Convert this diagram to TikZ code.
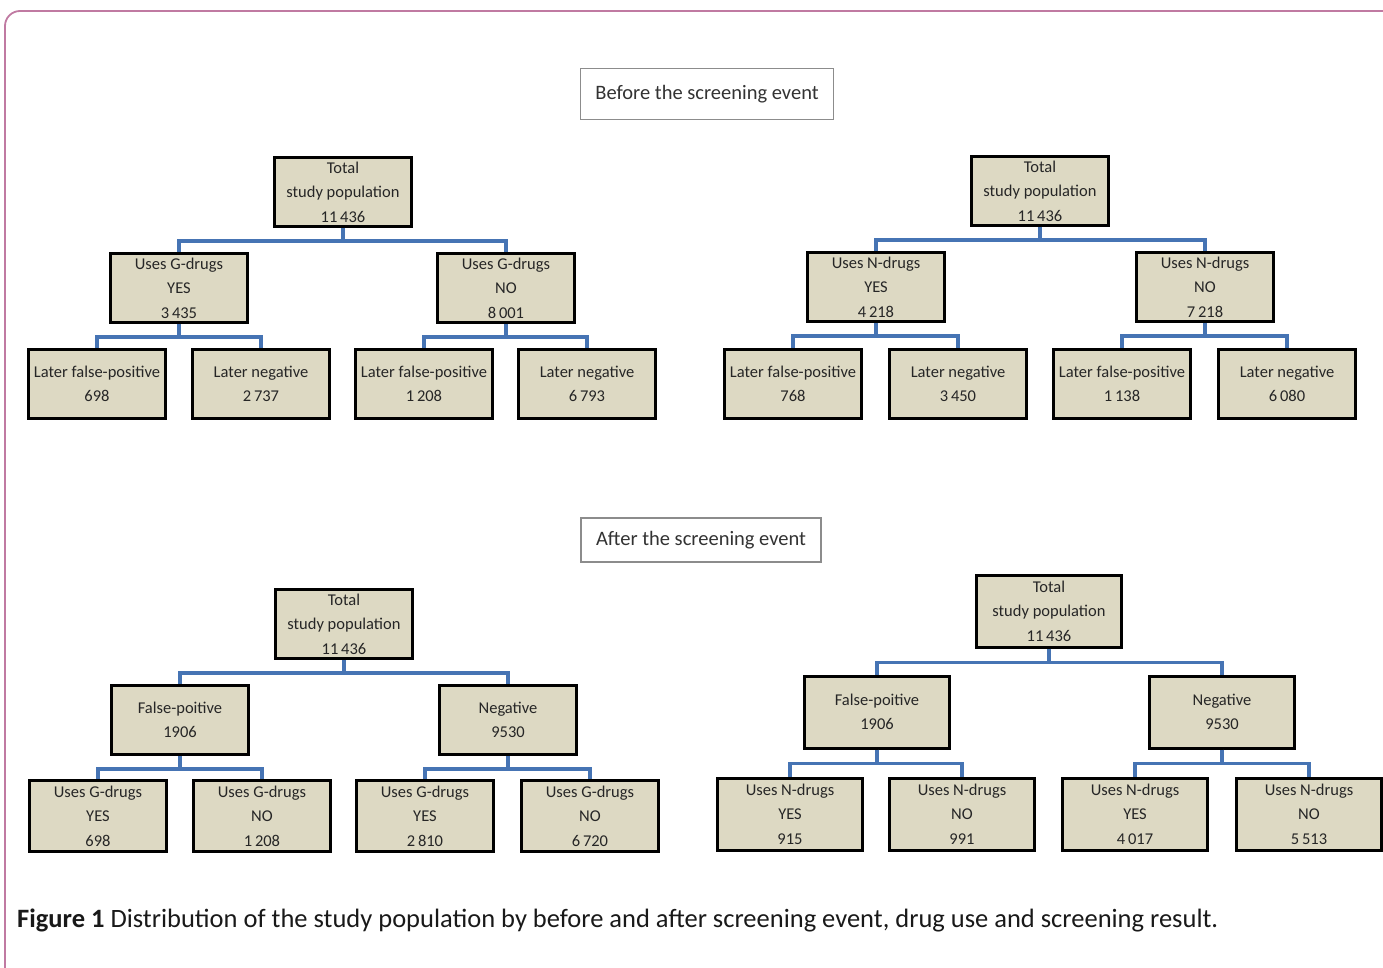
\documentclass[tikz,border=0pt]{standalone}
\usepackage{fontspec}
\setmainfont{Carlito}
\usepackage{xcolor}

\definecolor{boxfill}{RGB}{221,217,195}
\definecolor{linkblue}{RGB}{70,116,180}
\definecolor{framepink}{RGB}{192,122,162}

\tikzset{
    popbox/.style={draw=black, line width=3pt, fill=boxfill, align=center,
        minimum width=137pt, minimum height=69pt, inner sep=1pt,
        font=\fontsize{16.5}{24.5}\selectfont, text=black!85},
    widebox/.style={popbox, minimum width=145pt, minimum height=72pt},
    phasebox/.style={draw=black!45, line width=1.2pt, fill=white,
        font=\fontsize{20.5}{22}\selectfont, text=black!80},
    link/.style={draw=linkblue, line width=3.2pt}
}

\begin{document}
\begin{tikzpicture}[x=1pt, y=-1pt]
        % Fix the page to the size of the figure
        \useasboundingbox (0, 0) rectangle (1383, 968);
        \begin{scope}
            \clip (0, 0) rectangle (1383, 968);
            \draw [framepink, line width=1.8pt, rounded corners=15pt] (5, 11) rectangle (1400, 990);
        \end{scope}

        % Headings of the two halves
        \node[phasebox, minimum width=253pt, minimum height=51pt] (before) at (707, 94) {Before the screening event};
        \node[phasebox, minimum width=240pt, minimum height=44pt] (after) at (701, 540) {After the screening event};

        % Before the screening event, G-drugs
        \node[popbox] (bgtot) at (343, 192) {Total\\study population\\11\,436};
        \node[popbox] (bgyes) at (179, 288) {Uses G-drugs\\YES\\3\,435};
        \node[popbox] (bgno) at (506, 288) {Uses G-drugs\\NO\\8\,001};
        \foreach[count=\i] \x/\txt in {
            97/{Later false-positive\\698},
            261/{Later negative\\2\,737},
            424/{Later false-positive\\1\,208},
            587/{Later negative\\6\,793}}{
            \node[popbox] (bgleaf\i) at (\x, 384) {\txt};
        }

        % Before the screening event, N-drugs
        \node[popbox] (bntot) at (1040, 191) {Total\\study population\\11\,436};
        \node[popbox] (bnyes) at (876, 287) {Uses N-drugs\\YES\\4\,218};
        \node[popbox] (bnno) at (1205, 287) {Uses N-drugs\\NO\\7\,218};
        \foreach[count=\i] \x/\txt in {
            793/{Later false-positive\\768},
            958/{Later negative\\3\,450},
            1122/{Later false-positive\\1\,138},
            1287/{Later negative\\6\,080}}{
            \node[popbox] (bnleaf\i) at (\x, 384) {\txt};
        }

        % After the screening event, G-drugs
        \node[popbox] (agtot) at (344, 624) {Total\\study population\\11\,436};
        \node[popbox] (agfp) at (180, 720) {False-poitive\\1906};
        \node[popbox] (agneg) at (508, 720) {Negative\\9530};
        \foreach[count=\i] \x/\txt in {
            98/{Uses G-drugs\\YES\\698},
            262/{Uses G-drugs\\NO\\1\,208},
            425/{Uses G-drugs\\YES\\2\,810},
            590/{Uses G-drugs\\NO\\6\,720}}{
            \node[popbox, minimum height=71pt] (agleaf\i) at (\x, 816) {\txt};
        }

        % After the screening event, N-drugs
        \node[widebox] (antot) at (1049, 611) {Total\\study population\\11\,436};
        \node[widebox] (anfp) at (877, 712) {False-poitive\\1906};
        \node[widebox] (anneg) at (1222, 712) {Negative\\9530};
        \foreach[count=\i] \x/\txt in {
            790/{Uses N-drugs\\YES\\915},
            962/{Uses N-drugs\\NO\\991},
            1135/{Uses N-drugs\\YES\\4\,017},
            1309/{Uses N-drugs\\NO\\5\,513}}{
            \node[widebox] (anleaf\i) at (\x, 814) {\txt};
        }

        % Elbow connectors from parent to child
        \foreach \p/\c in {bgtot/bgyes, bgtot/bgno, bgyes/bgleaf1, bgyes/bgleaf2, bgno/bgleaf3, bgno/bgleaf4,
                           bntot/bnyes, bntot/bnno, bnyes/bnleaf1, bnyes/bnleaf2, bnno/bnleaf3, bnno/bnleaf4,
                           agtot/agfp, agtot/agneg, agfp/agleaf1, agfp/agleaf2, agneg/agleaf3, agneg/agleaf4}{
            \draw [link] (\p.south) -- ++(0, 13) -| (\c.north);
        }
        \foreach \p/\c in {antot/anfp, antot/anneg, anfp/anleaf1, anfp/anleaf2, anneg/anleaf3, anneg/anleaf4}{
            \draw [link] (\p.south) -- ++(0, 14) -| (\c.north);
        }

        % Caption
        \node[anchor=base west, inner sep=0pt, font=\fontsize{26.5}{30}\selectfont, text=black!90] (caption) at (17, 927)
            {\textbf{Figure 1} Distribution of the study population by before and after screening event, drug use and screening result.};
    \end{tikzpicture}
\end{document}
